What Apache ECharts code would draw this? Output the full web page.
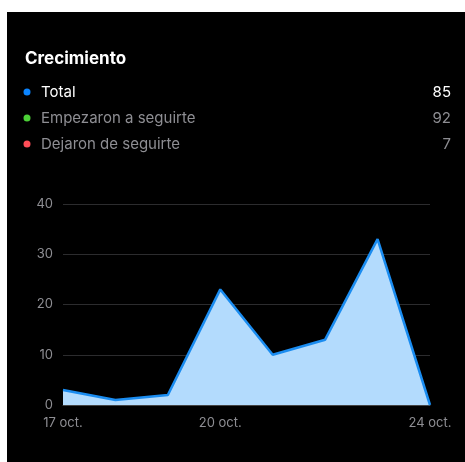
<!DOCTYPE html>
<html><head><meta charset="utf-8">
<script src="https://cdn.jsdelivr.net/npm/echarts@6/dist/echarts.min.js"></script>
<style>html,body{margin:0;padding:0;background:#fff;}#c{width:465px;height:462px;}</style>
</head><body><div id="c"></div>
<script>
const categories = ["17 oct.","18 oct.","19 oct.","20 oct.","21 oct.","22 oct.","23 oct.","24 oct."];
const totalValues = [3, 1, 2, 23, 10, 13, 33, 0];
const shownLabels = [0, 3, 7];
const legendNames = ["Total", "Empezaron a seguirte", "Dejaron de seguirte"];
const legendValues = ["85", "92", "7"];
const legendColors = ["#0a84ff", "#4cd137", "#ff4d57"];
const legendTextColors = ["#ffffff", "#8e8e93", "#8e8e93"];
const yTicks = {min: 0, max: 40, interval: 10};

const font = "Inter, Roboto, 'Noto Sans', sans-serif";
const chart = echarts.init(document.getElementById('c'));
const graphics = [{type:'rect', z:-10, silent:true, shape:{x:7,y:12,width:458,height:450}, style:{fill:'#000'}}];
legendNames.forEach((n,i)=>{
  const y = 92 + i*26;
  graphics.push({type:'circle', shape:{cx:27, cy:y, r:3.5}, style:{fill:legendColors[i]}});
  graphics.push({type:'text', x:41, y:y, style:{text:n, fill:legendTextColors[i], font:'15px '+font, textVerticalAlign:'middle', textAlign:'left'}});
  graphics.push({type:'text', x:451, y:y, style:{text:legendValues[i], fill:legendTextColors[i], font:'15px '+font, textVerticalAlign:'middle', textAlign:'right'}});
});
chart.setOption({
  backgroundColor: 'transparent',
  animation: false,
  title: {text:'Crecimiento', left:25, top:50, padding:0, textStyle:{color:'#fff', fontSize:17, fontWeight:'bold', fontFamily:font}},
  graphic: graphics,
  grid: {left:63, right:35, top:204, bottom:57},
  xAxis: {type:'category', data:categories, boundaryGap:false,
    axisLine:{show:true, lineStyle:{color:'#444'}}, axisTick:{show:false},
    axisLabel:{color:'#8e8e93', fontSize:13, fontFamily:font, margin:12,
      interval:(idx)=>shownLabels.includes(idx)}},
  yAxis: {type:'value', min:yTicks.min, max:yTicks.max, interval:yTicks.interval,
    axisLine:{show:false}, axisTick:{show:false},
    splitLine:{lineStyle:{color:'#2c2c2e', width:1}},
    axisLabel:{color:'#8e8e93', fontSize:13, fontFamily:font, margin:10}},
  series: [{type:'line', data:totalValues, symbol:'none', smooth:false,
    lineStyle:{color:'#1a8cf0', width:2.5},
    areaStyle:{color:'#b3dbfd', opacity:1}}]
});
</script></body></html>
